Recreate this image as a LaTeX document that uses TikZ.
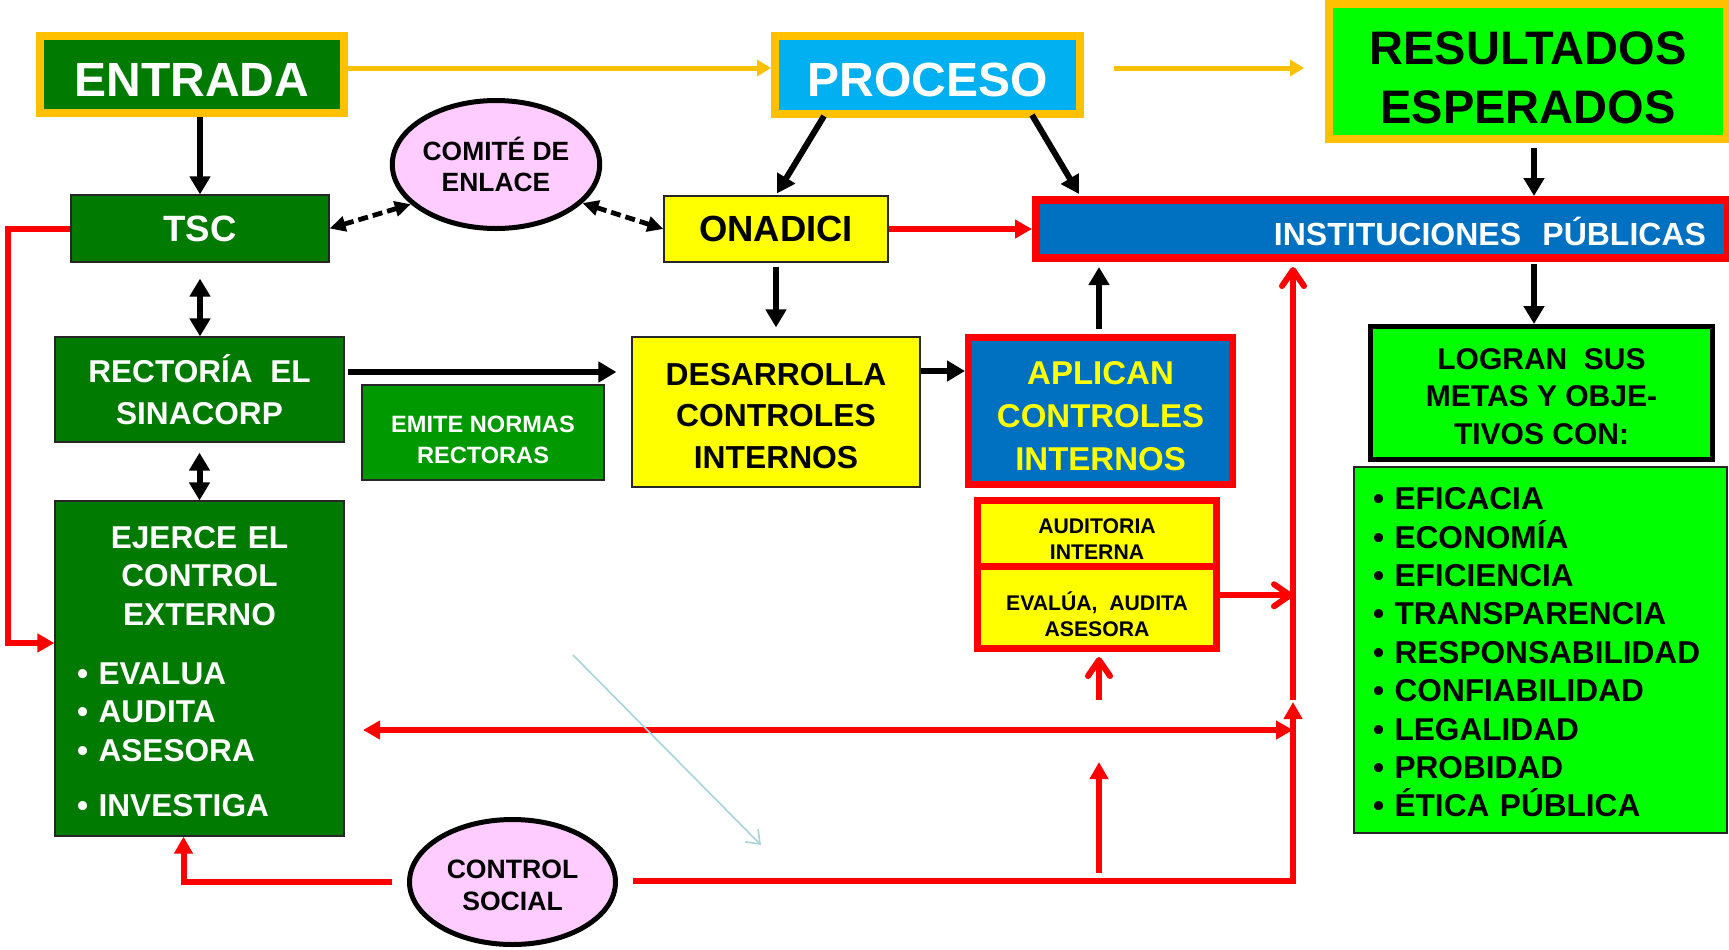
\documentclass[tikz,border=0pt]{standalone}
\usepackage{fontspec}
\setmainfont{Liberation Sans}
\usetikzlibrary{arrows.meta,shapes.geometric,calc}
\definecolor{orng}{HTML}{FFC000}
\definecolor{dgreen}{RGB}{0,122,0}
\definecolor{mgreen}{HTML}{009900}
\definecolor{lgreen}{HTML}{00FF00}
\definecolor{ylw}{HTML}{FFFF00}
\definecolor{dblue}{HTML}{0070C0}
\definecolor{sblue}{HTML}{00B0F0}
\definecolor{pnk}{HTML}{FFCCFF}
\definecolor{rd}{HTML}{FF0000}
\definecolor{lblue}{HTML}{A8D4DC}
\newcommand{\fsz}[2]{\fontsize{#1}{#2}\selectfont\bfseries}
\newcommand{\upr}[1]{\rule{0pt}{#1}}
\begin{document}
\begin{tikzpicture}[x=0.5pt,y=-0.5pt,
  box/.style={rectangle, inner sep=1pt, align=center},
  thinb/.style={draw=black!85, line width=0.6pt},
  oval/.style={ellipse, inner sep=0pt, draw=black, line width=2.5pt, fill=pnk, align=center},
  blk/.style={line width=3pt, -{Triangle[length=9pt,width=10pt]}},
  blkd/.style={line width=3pt, {Triangle[length=9pt,width=10pt]}-{Triangle[length=9pt,width=10pt]}},
  dsh/.style={line width=2.4pt, dash pattern=on 5pt off 2.5pt, {Triangle[length=8pt,width=7.5pt]}-{Triangle[length=8pt,width=7.5pt]}},
  org/.style={draw=orng, line width=2.5pt, -{Triangle[length=7pt,width=8pt]}},
  rln/.style={draw=rd, line width=3pt},
  rtip/.style={-{Triangle[length=8.5pt,width=9pt]}},
  ropen/.style={-{Straight Barb[length=8pt,width=11pt,round]}},
]
\fill[white] (0,0) rectangle (1729,949);
\useasboundingbox (0,0) rectangle (1729,949);

% ---------- nodes ----------
\node[box, draw=orng, line width=4pt, fill=dgreen, text=white, minimum width=152pt, minimum height=38.5pt, font=\fsz{24}{28}] (entrada) at (192,74.5) {\upr{22pt}ENTRADA};
\node[box, draw=orng, line width=4pt, fill=sblue, text=white, minimum width=152.5pt, minimum height=39pt, font=\fsz{24}{28}] (proceso) at (927.5,75) {\upr{22pt}PROCESO};
\node[box, draw=orng, line width=4pt, fill=lgreen, text=black, minimum width=199pt, minimum height=67.5pt, font=\fsz{23.5}{29.5}] (res) at (1528,71.5) {\upr{22.3pt}RESULTADOS\\ESPERADOS};

\node[box, thinb, fill=dgreen, text=white, minimum width=129pt, minimum height=33.5pt, font=\fsz{18.3}{22}] (tsc) at (200,228.5) {TSC};
\node[box, thinb, fill=ylw, text=black, minimum width=112pt, minimum height=33pt, font=\fsz{18.2}{22}] (onadici) at (776,229) {ONADICI};
\node[box, draw=rd, line width=4pt, fill=dblue, text=white, minimum height=29pt, text width=324pt, inner xsep=11pt, inner ysep=1pt, align=right, font=\fsz{16}{19}] (inst) at (1382,229) {\upr{16.3pt}INSTITUCIONES\ \ PÚBLICAS};

\node[oval, minimum width=103.5pt, minimum height=64pt, font=\fsz{13.2}{15.5}] (comite) at (496,164.5) {COMITÉ DE\\ENLACE};

\node[box, thinb, fill=dgreen, text=white, minimum width=144.5pt, minimum height=52.5pt, font=\fsz{15.8}{21}] (rect) at (199.5,389.5) {RECTORÍA\ \ EL\\SINACORP};
\node[box, thinb, fill=mgreen, text=white, minimum width=121pt, minimum height=47.5pt, font=\fsz{11.8}{15.5}] (emite) at (483,432.5) {\upr{15.4pt}EMITE NORMAS\\RECTORAS};
\node[box, thinb, fill=ylw, text=black, minimum width=144pt, minimum height=75pt, font=\fsz{15.9}{20.75}] (des) at (776,412) {\upr{14.7pt}DESARROLLA\\CONTROLES\\INTERNOS};
\node[box, draw=rd, line width=3.5pt, fill=dblue, text=ylw, minimum width=132pt, minimum height=73.5pt, font=\fsz{16.5}{21.5}] (apl) at (1100.5,411) {\upr{16.8pt}APLICAN\\CONTROLES\\INTERNOS};

\node[box, draw=rd, line width=3.5pt, fill=ylw, text=black, minimum width=119.5pt, minimum height=32.75pt, font=\fsz{10.6}{13}] (aud1) at (1097,533.25) {\upr{13.4pt}AUDITORIA\\INTERNA};
\node[box, draw=rd, line width=3.5pt, fill=ylw, text=black, minimum width=119.5pt, minimum height=41.25pt, font=\fsz{10.6}{13}] (aud2) at (1097,607.25) {\upr{16.4pt}EVALÚA,\ \ AUDITA\\ASESORA};

\node[box, draw=black, line width=2.5pt, fill=lgreen, text=black, minimum width=171pt, minimum height=66.5pt, font=\fsz{15}{18.75}] (logran) at (1541.5,393) {\upr{13.7pt}LOGRAN\ \ SUS\\METAS Y OBJE-\\TIVOS CON:};
\node[box, thinb, fill=lgreen, text=black, minimum width=186.5pt, minimum height=183pt, text width=167.5pt, inner xsep=9.5pt, align=left, font=\fsz{15.8}{19.2}] (valores) at (1540.5,650) {\upr{13.5pt}•\ EFICACIA\\•\ ECONOMÍA\\•\ EFICIENCIA\\•\ TRANSPARENCIA\\•\ RESPONSABILIDAD\\•\ CONFIABILIDAD\\•\ LEGALIDAD\\•\ PROBIDAD\\•\ ÉTICA PÚBLICA};

\node[box, thinb, fill=dgreen, text=white, minimum width=144.5pt, minimum height=167.5pt, text width=122.5pt, inner xsep=11pt, align=left, font=\fsz{15.8}{19.25}] (ejerce) at (199.5,668.5) {{\centering \upr{14pt}EJERCE EL\\CONTROL\\EXTERNO\par}\vskip 10.25pt
•\ EVALUA\\•\ AUDITA\\•\ ASESORA\\[8.25pt]•\ INVESTIGA};

\node[oval, minimum width=103pt, minimum height=62.5pt, font=\fsz{13.3}{15.7}] (social) at (512.5,882) {\upr{12.5pt}CONTROL\\SOCIAL};

% ---------- orange connectors ----------
\coordinate (o1) at ([yshift=3.25pt]entrada.east);
\draw[org] (o1) -- (o1 -| proceso.west);
\coordinate (o2) at ([xshift=15pt,yshift=3.5pt]proceso.east);
\draw[org] (o2) -- ($(o2 -| res.west)+(-10.5pt,0)$);

% ---------- black connectors ----------
\draw[blk] (entrada.south -| tsc.north) -- (tsc.north);
\draw[blk] ([xshift=-51.75pt,yshift=1pt]proceso.south) -- ([xshift=0.5pt,yshift=1pt]onadici.north);
\draw[blk] ([xshift=52.25pt,yshift=1.5pt]proceso.south) -- ([xshift=23.5pt,yshift=1pt]inst.north west);
\coordinate (r1) at ([xshift=3pt,yshift=-2.5pt]res.south);
\draw[blk] (r1) -- (r1 |- inst.north);
\coordinate (r2) at (r1 |- inst.south);
\coordinate (r3) at (r1 |- logran.north);
\draw[blk] ([yshift=-1pt]r2) -- (r3);
\draw[dsh] (tsc.east) -- (comite.205);
\draw[dsh] (comite.336) -- (onadici.west);
\coordinate (t1) at ([yshift=-8pt]tsc.south);
\draw[blkd] (t1) -- (t1 |- rect.north);
\coordinate (t2) at ([yshift=-5pt]rect.south);
\draw[blkd] (t2) -- (t2 |- ejerce.north);
\coordinate (d1) at ([xshift=1.5pt,yshift=8.75pt]rect.east);
\draw[blk] (d1) -- ($(d1 -| des.west)+(-7.5pt,0)$);
\draw[blk] ([yshift=-2pt]onadici.south) -- ([yshift=4.5pt]des.north);
\coordinate (d2) at ([yshift=20.5pt]des.east);
\draw[blk] (d2) -- (d2 -| apl.west);
\coordinate (a1) at ([xshift=-0.75pt,yshift=2.5pt]apl.north);
\draw[blk] (a1) -- ($(a1 |- inst.south)+(0,-2.5pt)$);

% ---------- red connectors ----------
\draw[rln, rtip] (onadici.east) -- (onadici.east -| inst.west);
\coordinate (vbot) at (1293,881);
\coordinate (vmid) at (1293,700);
\coordinate (vtip) at (1293,702);
\coordinate (hl) at (363,730);
\coordinate (hr) at (1293,730);
\draw[rln, rtip] ([xshift=7.5pt]social.east |- vbot) -- (vbot) -- (vtip);
\draw[rln, ropen] (vmid) -- ($(vmid |- inst.south)+(0,-2.5pt)$);
\draw[rln, {Triangle[length=8.5pt,width=9pt]}-{Triangle[length=8.5pt,width=9pt]}] (hl) -- (hr);
\coordinate (a2) at ([yshift=6pt]aud2.east);
\draw[rln, ropen] (a2) -- (a2 -| vmid);
\coordinate (u1) at (1099,700);
\draw[rln, ropen] (u1) -- ($(u1 |- aud2.south)+(0,-2.5pt)$);
\coordinate (u2) at (1099,873);
\coordinate (u3) at (1099,762);
\draw[rln, rtip] (u2) -- (u3);
\coordinate (s1) at ([xshift=-8pt]ejerce.south);
\draw[rln, rtip] ([xshift=-7.5pt]social.west) -| (s1);
\coordinate (lx) at (8,643);
\coordinate (e1) at ([yshift=12.75pt]ejerce.west);
\draw[rln, rtip] (tsc.west) -| (lx) -- (e1);

% ---------- light blue arrow ----------
\coordinate (lb1) at (573,655);
\coordinate (lb2) at (761,845);
\draw[draw=lblue, line width=0.8pt, -{Straight Barb[length=6pt,width=9pt]}] (lb1) -- (lb2);
\end{tikzpicture}
\end{document}
